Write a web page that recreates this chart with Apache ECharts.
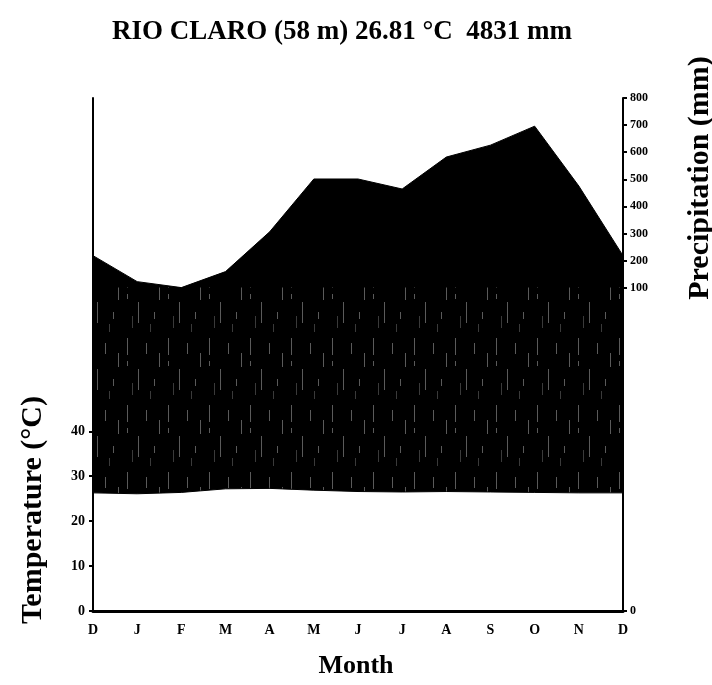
<!DOCTYPE html>
<html>
<head>
<meta charset="utf-8">
<title>RIO CLARO climate diagram</title>
<script src="https://cdn.jsdelivr.net/npm/echarts@6/dist/echarts.min.js"></script>
<style>
  html, body { margin: 0; padding: 0; background: #fff; }
  #chart { width: 712px; height: 685px; }
</style>
</head>
<body>
<div id="chart"></div>
<script>
// 月份（12月开头和结尾）
let months = ['D', 'J', 'F', 'M', 'A', 'M', 'J', 'J', 'A', 'S', 'O', 'N', 'D'];
// 气温 °C
let temperature = [26.3, 26.1, 26.4, 27.2, 27.3, 26.9, 26.6, 26.5, 26.6, 26.5, 26.4, 26.3, 26.3];
// 降水 mm
let precipitation = [218, 122, 100, 159, 306, 501, 501, 464, 582, 626, 696, 475, 218];
// 刻度
let tempTicks = [0, 10, 20, 30, 40];
let precTicks = [0, 100, 200, 300, 400, 500, 600, 700, 800];

// Walter-Lieth scale: up to 100 mm linear, above that compressed
const V100 = 72;       // 100 mm sits at 72 on the temperature scale
const STEP = 6.03;     // each 100 mm above 100 mm
const VMAX = V100 + 7 * STEP;

function toScale (p) {
  return p <= 100 ? p * V100 / 100 : V100 + (p - 100) / 100 * STEP;
}
function fromScale (v) {
  return v <= V100 ? v / V100 * 100 : 100 + (v - V100) / STEP * 100;
}

// hatch pattern for the humid band, mostly black with a few broken light strokes
function makeHatch () {
  let c = document.createElement('canvas');
  c.width = 41;
  c.height = 67;
  let ctx = c.getContext('2d');
  ctx.fillStyle = '#000';
  ctx.fillRect(0, 0, c.width, c.height);
  ctx.fillStyle = '#5a5a5a';
  ctx.fillRect(4, 3, 1, 17);
  ctx.fillRect(4, 26, 1, 5);
  ctx.fillRect(15, 34, 1, 21);
  ctx.fillRect(23, 8, 1, 11);
  ctx.fillRect(31, 44, 1, 7);
  ctx.fillRect(36, 18, 1, 14);
  ctx.fillStyle = '#3a3a3a';
  ctx.fillRect(9, 48, 1, 12);
  ctx.fillRect(27, 56, 1, 8);
  return c;
}

let serif = '"Liberation Serif", "DejaVu Serif", serif';
let chart = echarts.init(document.getElementById('chart'));

chart.setOption({
  backgroundColor: '#fff',
  animation: false,
  title: {
    text: 'RIO CLARO (58 m) 26.81 °C  4831 mm',
    left: 107,
    top: 14,
    textStyle: { fontFamily: serif, fontWeight: 'bold', fontSize: 27, color: '#000' }
  },
  grid: { left: 93, right: 89, top: 98, bottom: 74 },
  graphic: [
    {
      type: 'text', x: 33, y: 510, rotation: Math.PI / 2,
      style: { text: 'Temperature (°C)', font: 'bold 30px ' + serif, fill: '#000', align: 'center', verticalAlign: 'middle' }
    },
    {
      type: 'text', x: 700, y: 178, rotation: Math.PI / 2,
      style: { text: 'Precipitation (mm)', font: 'bold 30px ' + serif, fill: '#000', align: 'center', verticalAlign: 'middle' }
    },
    {
      type: 'text', x: 356, y: 666,
      style: { text: 'Month', font: 'bold 26px ' + serif, fill: '#000', align: 'center', verticalAlign: 'middle' }
    }
  ],
  xAxis: {
    type: 'category',
    boundaryGap: false,
    data: months,
    z: 10,
    axisLine: { lineStyle: { color: '#000', width: 3 } },
    axisTick: { show: false },
    axisLabel: { color: '#000', fontFamily: serif, fontWeight: 'bold', fontSize: 14, margin: 12 }
  },
  yAxis: [
    {
      type: 'value',
      position: 'left',
      min: 0,
      max: VMAX,
      z: 10,
      splitLine: { show: false },
      axisLine: { show: true, lineStyle: { color: '#000', width: 2 } },
      axisTick: { show: true, customValues: tempTicks, length: 4, lineStyle: { color: '#000', width: 2 } },
      axisLabel: { customValues: tempTicks, color: '#000', fontFamily: serif, fontWeight: 'bold', fontSize: 14, margin: 8 }
    },
    {
      type: 'value',
      position: 'right',
      min: 0,
      max: VMAX,
      z: 10,
      splitLine: { show: false },
      axisLine: { show: true, lineStyle: { color: '#000', width: 2 } },
      axisTick: { show: true, customValues: precTicks.map(toScale), length: 4, lineStyle: { color: '#000', width: 2 } },
      axisLabel: {
        customValues: precTicks.map(toScale),
        color: '#000', fontFamily: serif, fontWeight: 'bold', fontSize: 12, margin: 7,
        formatter: function (value) {
          return String(Math.round(fromScale(value) / 100) * 100);
        }
      }
    }
  ],
  series: [
    {
      name: 'Precipitation',
      type: 'line',
      yAxisIndex: 0,
      symbol: 'none',
      z: 1,
      lineStyle: { color: '#000', width: 1 },
      areaStyle: { color: '#000', opacity: 1 },
      data: precipitation.map(toScale)
    },
    {
      name: 'Humid',
      type: 'line',
      yAxisIndex: 0,
      symbol: 'none',
      z: 2,
      lineStyle: { width: 0 },
      areaStyle: { color: { image: makeHatch(), repeat: 'repeat' }, opacity: 1 },
      data: precipitation.map(function (p) { return toScale(Math.min(p, 100)); })
    },
    {
      name: 'Temperature',
      type: 'line',
      yAxisIndex: 0,
      symbol: 'none',
      z: 3,
      lineStyle: { color: '#000', width: 1 },
      areaStyle: { color: '#fff', opacity: 1 },
      data: temperature
    }
  ]
});
</script>
</body>
</html>
